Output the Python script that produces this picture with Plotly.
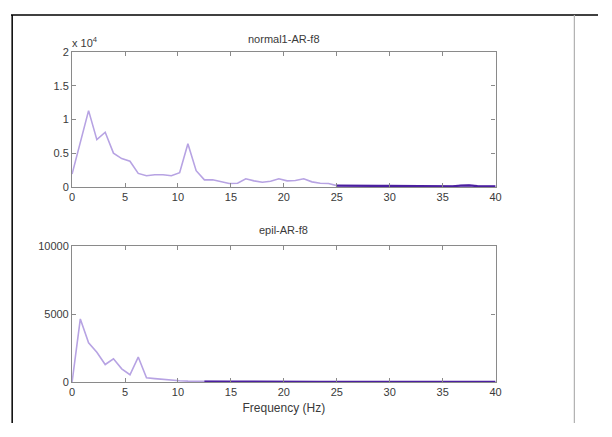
import plotly.graph_objects as go

# ---- data ----
freq = [0.00, 0.78, 1.56, 2.34, 3.13, 3.91, 4.69, 5.47, 6.25, 7.03, 7.81, 8.59, 9.38,
        10.16, 10.94, 11.72, 12.50, 13.28, 14.06, 14.84, 15.63, 16.41, 17.19, 17.97,
        18.75, 19.53, 20.31, 21.09, 21.88, 22.66, 23.44, 24.22, 25.00, 25.78, 26.56,
        27.34, 28.13, 28.91, 29.69, 30.47, 31.25, 32.03, 32.81, 33.59, 34.38, 35.16,
        35.94, 36.72, 37.50, 38.28, 39.06, 40.00]

normal_psd = [1900, 6800, 11300, 7000, 8100, 5000, 4200, 3800, 2000, 1650, 1800, 1800, 1650,
              2100, 6400, 2400, 1050, 1050, 800, 500, 550, 1200, 900, 700,
              850, 1200, 900, 950, 1200, 750, 550, 500, 200, 170, 160,
              160, 150, 150, 160, 150, 150, 140, 140, 120, 100, 90,
              100, 200, 230, 120, 100, 100]

epil_psd = [0, 4650, 2900, 2200, 1300, 1720, 980, 550, 1850, 320, 260, 200, 140,
            110, 80, 60, 40, 35, 30, 30, 30, 30, 30, 30,
            30, 30, 30, 30, 30, 30, 30, 30, 30, 30, 30,
            30, 30, 30, 30, 30, 30, 30, 30, 30, 30, 30,
            30, 30, 30, 30, 30, 30]

normal_tail_start = 32   # index where the trace runs along the axis
epil_tail_start = 16

top_yticks = [0, 5000, 10000, 15000, 20000]
top_yticktext = ["0", "0.5", "1", "1.5", "2"]
bot_yticks = [0, 5000, 10000]
bot_yticktext = ["0", "5000", "10000"]
xticks = [0, 5, 10, 15, 20, 25, 30, 35, 40]

LIGHT = "#b7a3e3"
DARK = "#4b1fa0"
AXC = "#8a8a8a"
TXT = "#3a3a3a"
FONT = "Liberation Sans, Arial, sans-serif"

# page has an 8px body margin: figure is sized to fit the window without scrolling
OFF = 8
W, H = 612 - 2 * OFF, 437 - 2 * OFF


def px(X):
    return (X - OFF) / W


def py(Y):
    return 1 - (Y - OFF) / H


fig = go.Figure()
fig.add_trace(go.Scatter(x=freq, y=normal_psd, mode="lines",
                         line=dict(color=LIGHT, width=1.6), xaxis="x", yaxis="y"))
fig.add_trace(go.Scatter(x=freq[normal_tail_start:], y=normal_psd[normal_tail_start:], mode="lines",
                         line=dict(color=DARK, width=2.2), xaxis="x", yaxis="y"))
fig.add_trace(go.Scatter(x=freq, y=epil_psd, mode="lines",
                         line=dict(color=LIGHT, width=1.6), xaxis="x2", yaxis="y2"))
fig.add_trace(go.Scatter(x=freq[epil_tail_start:], y=epil_psd[epil_tail_start:], mode="lines",
                         line=dict(color=DARK, width=2.2), xaxis="x2", yaxis="y2"))

xdom = [px(70), px(500)]
ax_common = dict(showgrid=False, zeroline=False, showline=True, linecolor=AXC, linewidth=1.2,
                 mirror="ticks", ticks="inside", ticklen=4, tickcolor=AXC,
                 tickfont=dict(family=FONT, size=11, color=TXT))

fig.update_layout(
    width=W, height=H, margin=dict(l=0, r=0, t=0, b=0),
    paper_bgcolor="white", plot_bgcolor="white", showlegend=False,
    xaxis=dict(domain=xdom, anchor="y", range=[0, 40], tickvals=xticks, **ax_common),
    yaxis=dict(domain=[py(186), py(47)], anchor="x", range=[0, 20000],
               tickvals=top_yticks, ticktext=top_yticktext, **ax_common),
    xaxis2=dict(domain=xdom, anchor="y2", range=[0, 40], tickvals=xticks,
                title=dict(text="Frequency (Hz)", standoff=6,
                           font=dict(family=FONT, size=12, color=TXT)), **ax_common),
    yaxis2=dict(domain=[py(387), py(247)], anchor="x2", range=[0, 10000],
                tickvals=bot_yticks, ticktext=bot_yticktext, **ax_common),
    annotations=[
        dict(text="normal1-AR-f8", x=px(285), y=py(42), xref="paper", yref="paper",
             yanchor="bottom", showarrow=False, font=dict(family=FONT, size=11, color=TXT)),
        dict(text="epil-AR-f8", x=px(285), y=py(239), xref="paper", yref="paper",
             yanchor="bottom", showarrow=False, font=dict(family=FONT, size=11, color=TXT)),
        dict(text="x 10<sup>4</sup>", x=px(68), y=py(46), xref="paper", yref="paper",
             xanchor="left", yanchor="bottom", showarrow=False,
             font=dict(family=FONT, size=11, color=TXT)),
    ],
    shapes=[
        dict(type="line", xref="paper", yref="paper", x0=0, x1=1, y0=py(9), y1=py(9),
             line=dict(color="black", width=1.5)),
        dict(type="line", xref="paper", yref="paper", x0=0.002, x1=0.002, y0=0, y1=py(9),
             line=dict(color="black", width=1.5)),
        dict(type="line", xref="paper", yref="paper", x0=px(580), x1=px(580), y0=0, y1=py(9),
             line=dict(color="#b0b0b0", width=1.2)),
    ],
)

fig.write_html("out.html")
